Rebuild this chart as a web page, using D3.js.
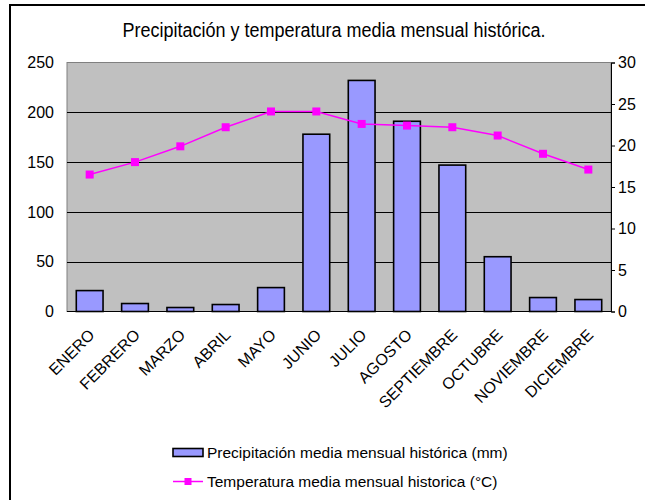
<!DOCTYPE html>
<html>
<head>
<meta charset="utf-8">
<script src="https://cdn.jsdelivr.net/npm/d3@7"></script>
<style>
  body { margin: 0; background: #fff; }
  svg { display: block; font-family: "Liberation Sans", Arial, sans-serif; }
</style>
</head>
<body>
<div id="chart"></div>
<script>
var months = ['ENERO', 'FEBRERO', 'MARZO', 'ABRIL', 'MAYO', 'JUNIO', 'JULIO',
  'AGOSTO', 'SEPTIEMBRE', 'OCTUBRE', 'NOVIEMBRE', 'DICIEMBRE'];
var precip = [21, 8, 4, 7, 24, 178, 232, 191, 147, 55, 14, 12];
var temp = [16.5, 18.0, 19.9, 22.2, 24.1, 24.1, 22.6, 22.4, 22.2, 21.2, 19.0, 17.1];
var precipTicks = [0, 50, 100, 150, 200, 250];
var tempTicks = [0, 5, 10, 15, 20, 25, 30];
var title = 'Precipitación y temperatura media mensual histórica.';
var legendPrecip = 'Precipitación media mensual histórica (mm)';
var legendTemp = 'Temperatura media mensual historica (°C)';

var width = 645, height = 500;
var plotLeft = 67, plotRight = 611, plotTop = 62.5, plotBottom = 311.5;

var svg = d3.select('#chart').append('svg').attr('width', width).attr('height', height);

// outer frame (only left and top visible)
svg.append('path').attr('d', 'M10,500 V5 H645').attr('fill', 'none')
  .attr('stroke', '#000').attr('stroke-width', 2);

svg.append('text').attr('x', 334).attr('y', 37).attr('text-anchor', 'middle')
  .attr('transform', 'translate(334,37) scale(1,1.1) translate(-334,-37)')
  .style('font-size', '18px').text(title);

var x = d3.scaleBand().domain(months).range([plotLeft, plotRight]).paddingInner(0.41).paddingOuter(0.205);
var y = d3.scaleLinear().domain([0, 250]).range([plotBottom, plotTop]);
var y2 = d3.scaleLinear().domain([0, 30]).range([plotBottom, plotTop]);

// plot area
svg.append('rect').attr('x', plotLeft).attr('y', plotTop).attr('width', plotRight - plotLeft)
  .attr('height', plotBottom - plotTop)
  .attr('fill', '#c0c0c0').attr('stroke', '#808080').attr('stroke-width', 1);

// gridlines
svg.append('g').selectAll('line').data(precipTicks.filter(function(d){ return d > 0 && d < 250; }))
  .enter().append('line')
  .attr('x1', plotLeft).attr('x2', plotRight)
  .attr('y1', function(d){ return Math.round(y(d)) + 0.5; })
  .attr('y2', function(d){ return Math.round(y(d)) + 0.5; })
  .attr('stroke', '#000').attr('stroke-width', 1);

// left axis labels
var yAxis = d3.axisLeft(y).tickValues(precipTicks).tickSize(0).tickPadding(13);
var gy = svg.append('g').attr('transform', 'translate(' + plotLeft + ',0)').call(yAxis);
gy.select('.domain').remove();
gy.selectAll('text').style('font-size', '16px').attr('fill', '#000').attr('font-family', null);

// right axis
var y2Axis = d3.axisRight(y2).tickValues(tempTicks).tickSize(4).tickPadding(3);
var gy2 = svg.append('g').attr('transform', 'translate(' + plotRight + ',0)').call(y2Axis);
gy2.select('.domain').attr('stroke', '#000');
gy2.selectAll('line').attr('stroke', '#000');
gy2.selectAll('text').style('font-size', '16px').attr('fill', '#000').attr('font-family', null);

// bars
svg.append('g').selectAll('rect').data(precip).enter().append('rect')
  .attr('x', function(d, i){ return x(months[i]); })
  .attr('y', function(d){ return y(d); })
  .attr('width', x.bandwidth())
  .attr('height', function(d){ return plotBottom - y(d); })
  .attr('fill', '#9999ff').attr('stroke', '#000').attr('stroke-width', 1.6);

// bottom axis line
svg.append('line').attr('x1', plotLeft).attr('x2', plotRight).attr('y1', plotBottom).attr('y2', plotBottom)
  .attr('stroke', '#000').attr('stroke-width', 1);

// temperature line
var line = d3.line()
  .x(function(d, i){ return x(months[i]) + x.bandwidth() / 2; })
  .y(function(d){ return y2(d); });
svg.append('path').datum(temp).attr('d', line).attr('fill', 'none')
  .attr('stroke', '#ff00ff').attr('stroke-width', 1.5);
svg.append('g').selectAll('rect').data(temp).enter().append('rect')
  .attr('x', function(d, i){ return x(months[i]) + x.bandwidth() / 2 - 4; })
  .attr('y', function(d){ return y2(d) - 4; })
  .attr('width', 8).attr('height', 8).attr('fill', '#ff00ff');

// category labels
svg.append('g').selectAll('text').data(months).enter().append('text')
  .attr('transform', function(d){
    return 'translate(' + (x(d) + x.bandwidth() / 2 + 6) + ',' + 336 + ') rotate(-45)';
  })
  .attr('text-anchor', 'end')
  .style('font-size', '16px')
  .text(function(d){ return d; });

// legend
var lg = svg.append('g');
lg.append('rect').attr('x', 173).attr('y', 448.5).attr('width', 30).attr('height', 8)
  .attr('fill', '#9999ff').attr('stroke', '#000').attr('stroke-width', 1.6);
lg.append('text').attr('x', 207).attr('y', 458).style('font-size', '15.5px').text(legendPrecip);
lg.append('line').attr('x1', 173).attr('x2', 203).attr('y1', 481.5).attr('y2', 481.5)
  .attr('stroke', '#ff00ff').attr('stroke-width', 1.5);
lg.append('rect').attr('x', 184.5).attr('y', 478).attr('width', 7).attr('height', 7).attr('fill', '#ff00ff');
lg.append('text').attr('x', 207).attr('y', 487).style('font-size', '15.5px').text(legendTemp);
</script>
</body>
</html>
